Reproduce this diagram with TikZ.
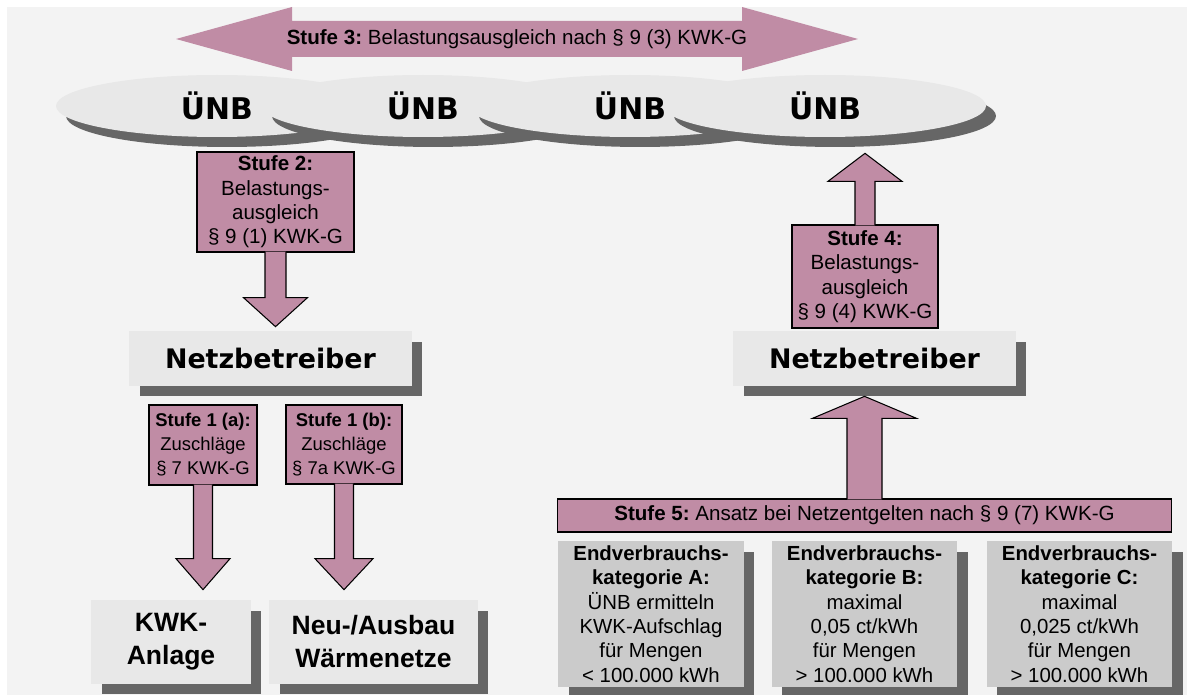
\documentclass[tikz,border=0pt]{standalone}
\usepackage{fontspec}
\setmainfont{Liberation Sans}
\newfontfamily\verd{DejaVu Sans}
\usetikzlibrary{calc,shapes.geometric,shadows}
\definecolor{hintergrund}{RGB}{243,243,243}
\definecolor{mauve}{RGB}{192,140,165}
\definecolor{hell}{RGB}{232,232,232}
\definecolor{mittel}{RGB}{203,203,203}
\definecolor{schattengrau}{RGB}{102,102,102}

\tikzset{
  schatten/.style={general shadow={shadow xshift=0.21cm, shadow yshift=-0.21cm, fill=schattengrau, opacity=1}},
  stufe/.style={draw=black, line width=0.6pt, fill=mauve, align=center, inner sep=0pt,
    font=\fontsize{11.7}{13.9}\selectfont},
  stufeklein/.style={stufe, font=\fontsize{10.5}{13.7}\selectfont},
  blk/.style={draw=black, line width=0.6pt, fill=mauve, line join=miter},
  ebene/.style={fill=hell, schatten, align=center, inner sep=0pt,
    font=\verd\bfseries\fontsize{15.3}{18}\selectfont},
  ziel/.style={fill=hell, schatten, align=center, inner sep=0pt,
    font=\bfseries\fontsize{15.1}{18.8}\selectfont},
  kategorie/.style={fill=mittel, schatten, align=center, inner sep=0pt,
    minimum width=3.72cm, minimum height=2.92cm, font=\fontsize{11.6}{13.9}\selectfont},
  unb/.style={ellipse, fill=hell, minimum width=6.44cm, minimum height=1.24cm,
    general shadow={shadow xshift=0.2cm, shadow yshift=-0.2cm, fill=schattengrau, opacity=1},
    font=\verd\bfseries\fontsize{17}{20}\selectfont}
}

% block arrows: source, target, shaft half width, head half width, head length, gap
\newcommand{\pfeilab}[6]{%
  \draw[blk] ($(#1.south)+(-#3,-1)$) -- ($(#1.south |- #2.north)+(-#3,-#5-#6)$)
    -- ($(#1.south |- #2.north)+(-#4,-#5-#6)$) -- ($(#1.south |- #2.north)+(0,-#6)$)
    -- ($(#1.south |- #2.north)+(#4,-#5-#6)$) -- ($(#1.south |- #2.north)+(#3,-#5-#6)$)
    -- ($(#1.south)+(#3,-1)$);}
\newcommand{\pfeilauf}[6]{%
  \draw[blk] ($(#1.north)+(-#3,1)$) -- ($(#1.north |- #2.south)+(-#3,#5+#6)$)
    -- ($(#1.north |- #2.south)+(-#4,#5+#6)$) -- ($(#1.north |- #2.south)+(0,#6)$)
    -- ($(#1.north |- #2.south)+(#4,#5+#6)$) -- ($(#1.north |- #2.south)+(#3,#5+#6)$)
    -- ($(#1.north)+(#3,1)$);}

\begin{document}
\frenchspacing
\begin{tikzpicture}[x=0.02cm, y=-0.02cm]
  \useasboundingbox (0,0) rectangle (1187,695);
  \fill[hintergrund] (7,7) rectangle (1187,695);

  \fill[mauve] (176,39) -- (292,7) -- (292,21) -- (742,21) -- (742,7) -- (858,39)
    -- (742,71) -- (742,57) -- (292,57) -- (292,71) -- cycle;
  \node[font=\fontsize{11.7}{13.9}\selectfont] (s3) at (517,39) {\textbf{Stufe 3:} Belastungsausgleich nach § 9 (3) KWK-G};

  \foreach \i/\x in {1/217,2/423,3/630,4/825}
    \node[unb] (unb\i) at (\x,106) {ÜNB};

  \node[stufe, minimum width=3.14cm, minimum height=2cm] (s2) at (275.5,202)
    {\textbf{Stufe 2:}\\Belastungs-\\ausgleich\\§ 9 (1) KWK-G};
  \node[ebene, minimum width=5.66cm, minimum height=1.1cm] (nb1) at (270.5,358.5) {Netzbetreiber};
  \node[ebene, minimum width=5.66cm, minimum height=1.1cm] (nb2) at (874.5,358.5) {Netzbetreiber};

  \node[stufeklein, minimum width=2.16cm, minimum height=1.6cm] (s1a) at (203,445)
    {\textbf{Stufe 1 (a):}\\Zuschläge\\§ 7 KWK-G};
  \node[stufeklein, minimum width=2.32cm, minimum height=1.58cm] (s1b) at (344,444.5)
    {\textbf{Stufe 1 (b):}\\Zuschläge\\§ 7a KWK-G};
  \node[ziel, minimum width=3.2cm, minimum height=1.68cm] (kwk) at (171,642) {KWK-\\Anlage};
  \node[ziel, minimum width=4.18cm, minimum height=1.68cm] (netz) at (373.5,642) {Neu-/Ausbau\\Wärmenetze};

  \node[stufe, minimum width=2.92cm, minimum height=2.06cm] (s4) at (865,276.5)
    {\textbf{Stufe 4:}\\Belastungs-\\ausgleich\\§ 9 (4) KWK-G};
  \node[stufe, minimum width=12.3cm, minimum height=0.66cm] (s5) at (864.5,515.5)
    {\textbf{Stufe 5:} Ansatz bei Netzentgelten nach § 9 (7) KWK-G};

  \node[kategorie] (ka) at (651,614) {\textbf{Endverbrauchs-}\\\textbf{kategorie A:}\\ÜNB ermitteln\\KWK-Aufschlag\\für Mengen\\< 100.000 kWh};
  \node[kategorie] (kb) at (864.5,614) {\textbf{Endverbrauchs-}\\\textbf{kategorie B:}\\maximal\\0,05 ct/kWh\\für Mengen\\> 100.000 kWh};
  \node[kategorie] (kc) at (1079.5,614) {\textbf{Endverbrauchs-}\\\textbf{kategorie C:}\\maximal\\0,025 ct/kWh\\für Mengen\\> 100.000 kWh};

  \pfeilab{s2}{nb1}{10.5}{32}{29}{4}
  \pfeilab{s1a}{kwk}{9.5}{27}{31}{10}
  \pfeilab{s1b}{netz}{9.5}{29}{31}{10}
  \pfeilauf{s4}{unb4}{10}{37}{28}{16}
  \pfeilauf{s5}{nb2}{17.5}{52}{22}{10}
\end{tikzpicture}
\end{document}
